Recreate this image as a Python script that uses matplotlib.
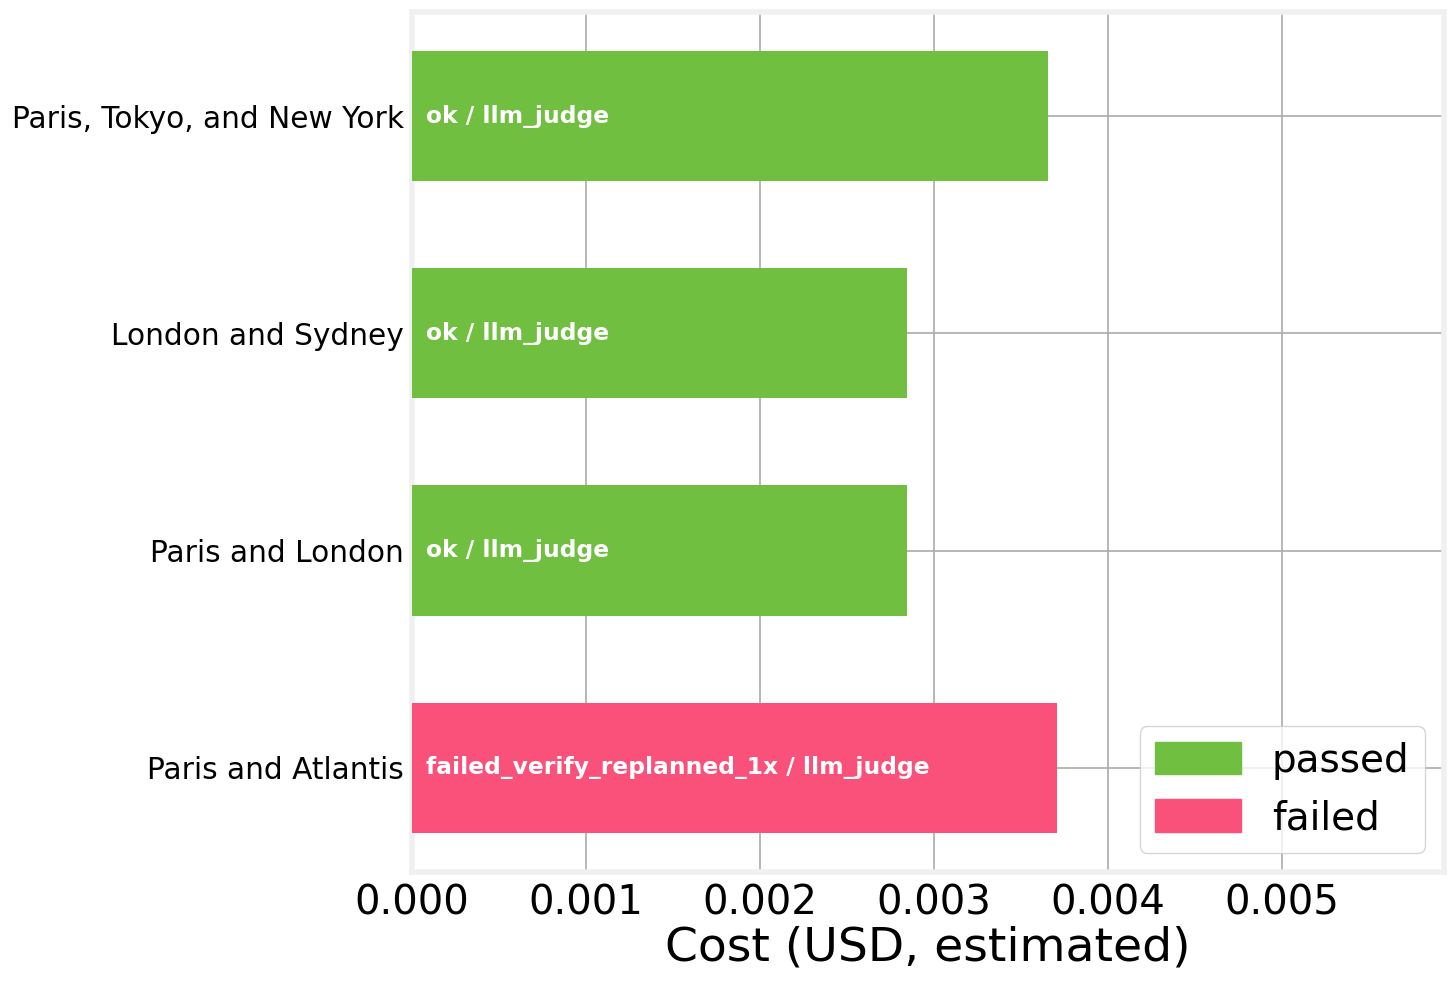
import matplotlib.pyplot as plt
from matplotlib.patches import Patch

queries = ["Paris and Atlantis", "Paris and London", "London and Sydney", "Paris, Tokyo, and New York"]
costs = [0.00371, 0.002845, 0.002845, 0.003655]
statuses = ["failed_verify_replanned_1x", "ok", "ok", "ok"]
judges = ["llm_judge", "llm_judge", "llm_judge", "llm_judge"]
passed = [False, True, True, True]

green = '#70bf41'
pink = '#fa517a'

fig = plt.figure(figsize=(14.56, 9.82), dpi=100)
ax = fig.add_axes([0.2830, 0.112, 0.709, 0.876])

colors = [green if p else pink for p in passed]
ax.barh(queries, costs, height=0.6, color=colors, zorder=3)

# status / judge label inside each bar
for i, (s, j) in enumerate(zip(statuses, judges)):
    ax.annotate(s + " / " + j, xy=(0, i), xytext=(10, 0), textcoords='offset points',
                va='center', ha='left', color='white', fontsize=16.8, fontweight='bold', zorder=4)

ax.set_xlim(0, max(costs) * 1.6)
ax.set_xticks([0.000, 0.001, 0.002, 0.003, 0.004, 0.005])
ax.set_xticklabels(["0.000", "0.001", "0.002", "0.003", "0.004", "0.005"])
ax.tick_params(axis='x', labelsize=29, length=0, pad=8)
ax.tick_params(axis='y', labelsize=21.3, length=0, pad=6)
ax.set_xlabel("Cost (USD, estimated)", fontsize=34, labelpad=2)

ax.grid(True, color='#aaaaaa', linewidth=1.2, zorder=0)
ax.set_axisbelow(True)
for sp in ax.spines.values():
    sp.set_color('#f0f0f0')
    sp.set_linewidth(4)

handles = [Patch(color=green, label='passed'), Patch(color=pink, label='failed')]
ax.legend(handles=handles, loc='lower right', fontsize=28, handlelength=2.2,
          handleheight=0.9, borderpad=0.4, framealpha=0.8)

fig.savefig("out.png", dpi=100)
